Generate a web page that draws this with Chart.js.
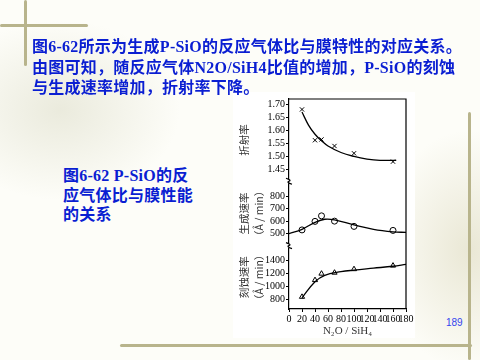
<!DOCTYPE html>
<html>
<head>
<meta charset="utf-8">
<script src="https://cdn.jsdelivr.net/npm/chart.js@4.4.1/dist/chart.umd.min.js"></script>
<style>
    body { margin: 0; }
    .slide {
        position: relative; width: 480px; height: 360px; overflow: hidden;
        background:
            radial-gradient(ellipse 120px 90px at 60px 110px, rgba(200,200,170,0.35), rgba(255,255,255,0) 100%),
            radial-gradient(ellipse 90px 120px at 470px 250px, rgba(210,205,170,0.45), rgba(255,255,255,0) 100%),
            #fdfdf8;
        font-family: "Noto Sans CJK SC", sans-serif;
    }
    .vine { position: absolute; background: #b8b48c; border-radius: 2px; }
    .txt { position: absolute; z-index: 2; color: #0a1ed2; font-weight: bold; font-size: 16px; line-height: 18.5px; letter-spacing: 0.25px; white-space: nowrap; }
    .txt .lat { font-family: "Liberation Serif", serif; }
    .pg { position: absolute; left: 446px; top: 317px; font: 10px "Liberation Sans", Arial, sans-serif; color: #3344ee; }
    .figbox { position: absolute; left: 233px; top: 92px; width: 182px; height: 246px; background: #fff; }
</style>
</head>
<body>
<div class="slide">
    <div class="vine" style="left:0;top:24px;width:88px;height:3px"></div>
    <div class="vine" style="left:24px;top:0;width:3px;height:66px"></div>
    <div class="vine" style="left:120px;top:344px;width:352px;height:3px"></div>
    <div class="vine" style="left:468px;top:112px;width:3px;height:248px"></div>

    <div class="figbox"><canvas id="chart" width="182" height="246"></canvas></div>

    <div class="txt" style="left:32px;top:36px">图<span class="lat">6-62</span>所示为生成<span class="lat">P-SiO</span>的反应气体比与膜特性的对应关系。<br>由图可知，随反应气体<span class="lat">N2O/SiH4</span>比值的增加，<span class="lat">P-SiO</span>的刻蚀<br>与生成速率增加，折射率下降。</div>
    <div class="txt" style="left:63px;top:165px;line-height:19px">图<span class="lat">6-62 P-SiO</span>的反<br>应气体比与膜性能<br>的关系</div>
    <div class="pg">189</div>
</div>

<script>
// N2O/SiH4 ratios of the measured points
const ratios = [20, 40, 50, 70, 100, 160];

// refractive index (x markers) and the drawn curve
const refIndex = [1.68, 1.562, 1.565, 1.54, 1.512, 1.48];
const refCurveX = [20, 30, 40, 50, 60, 80, 100, 120, 140, 165];
const refCurveY = [1.67, 1.62, 1.585, 1.56, 1.54, 1.515, 1.50, 1.49, 1.485, 1.485];

// deposition rate, A/min (circles)
const depRate = [530, 598, 642, 600, 558, 526];
const depCurveX = [0, 20, 40, 55, 70, 100, 130, 160, 180];
const depCurveY = [500, 535, 590, 615, 610, 570, 535, 515, 510];

// etch rate, A/min (triangles)
const etchRate = [835, 1095, 1195, 1210, 1265, 1320];
const etchCurveX = [20, 40, 55, 80, 100, 130, 160, 180];
const etchCurveY = [820, 1070, 1170, 1225, 1250, 1280, 1310, 1340];

// tick labels
const xTicks = [0, 20, 40, 60, 80, 100, 120, 140, 160, 180];
const refTicks = [1.45, 1.50, 1.55, 1.60, 1.65, 1.70];
const depTicks = [500, 600, 700, 800];
const etchTicks = [800, 1000, 1200, 1400];

const INK = '#000';
const tickFont = { family: 'Liberation Serif', size: 10 };

function pts(xs, ys) {
    return xs.map((x, i) => ({ x: x, y: ys[i] }));
}

function yAxis(min, max, weight, ticks, title, digits) {
    return {
        type: 'linear', position: 'left', stack: 'panels', stackWeight: weight,
        min: min, max: max,
        afterBuildTicks: (s) => { s.ticks = ticks.map(v => ({ value: v })); },
        afterFit: (s) => { s.width = 56; },
        ticks: { font: tickFont, color: INK, padding: 1, autoSkip: false, callback: v => v.toFixed(digits) },
        grid: { drawOnChartArea: false, tickLength: 3, color: INK },
        border: { color: INK, width: 1.2 },
        title: { display: true, text: title, font: { family: 'Noto Sans CJK SC', size: 10.5, lineHeight: 1.45 }, color: '#333', padding: { top: 3, bottom: 0 } }
    };
}

//Draws the frame round the plot and the little breaks between panels
const framePlugin = {
    id: 'frame',
    afterDraw(chart) {
        const ctx = chart.ctx;
        const a = chart.chartArea;
        ctx.save();
        ctx.strokeStyle = INK;
        ctx.lineWidth = 1.2;
        ctx.beginPath();
        ctx.moveTo(a.left, a.top);
        ctx.lineTo(a.right, a.top);
        ctx.lineTo(a.right, a.bottom);
        ctx.stroke();
        ['yRef', 'yDep'].forEach(id => {
            const yb = chart.scales[id].bottom;
            ctx.fillStyle = '#fff';
            ctx.fillRect(a.left - 2, yb - 2, 4, 4);
            ctx.beginPath();
            ctx.moveTo(a.left - 3, yb - 3);
            ctx.quadraticCurveTo(a.left + 3, yb - 1, a.left, yb);
            ctx.quadraticCurveTo(a.left - 3, yb + 1, a.left + 3, yb + 3);
            ctx.stroke();
        });
        ctx.restore();
    }
};

const curveStyle = { type: 'line', showLine: true, pointRadius: 0, borderColor: INK, borderWidth: 1.3, tension: 0.4, fill: false };
const markStyle = { type: 'scatter', borderColor: INK, backgroundColor: '#fff', borderWidth: 1, pointRadius: 3 };

new Chart(document.getElementById('chart'), {
    data: {
        datasets: [
            Object.assign({ data: pts(refCurveX, refCurveY), yAxisID: 'yRef' }, curveStyle),
            Object.assign({ data: pts(ratios, refIndex), yAxisID: 'yRef', pointStyle: 'crossRot' }, markStyle),
            Object.assign({ data: pts(depCurveX, depCurveY), yAxisID: 'yDep' }, curveStyle),
            Object.assign({ data: pts(ratios, depRate), yAxisID: 'yDep', pointStyle: 'circle' }, markStyle),
            Object.assign({ data: pts(etchCurveX, etchCurveY), yAxisID: 'yEtch' }, curveStyle),
            Object.assign({ data: pts(ratios, etchRate), yAxisID: 'yEtch', pointStyle: 'triangle' }, markStyle)
        ]
    },
    options: {
        responsive: false,
        animation: false,
        layout: { padding: { top: 5, right: 9, left: 0, bottom: 0 } },
        plugins: { legend: { display: false }, tooltip: { enabled: false } },
        scales: {
            x: {
                type: 'linear', min: 0, max: 180,
                afterBuildTicks: (s) => { s.ticks = xTicks.map(v => ({ value: v })); },
                afterFit: (s) => { s.height = 29; },
                ticks: { font: tickFont, color: INK, padding: 1, autoSkip: false, maxRotation: 0 },
                grid: { drawOnChartArea: false, tickLength: 3, color: INK },
                border: { color: INK, width: 1.2 },
                title: { display: true, text: 'N₂O / SiH₄', font: { family: 'Liberation Serif', size: 11 }, color: '#333', padding: 0 }
            },
            // stacked panels are laid out bottom first
            yEtch: yAxis(646, 1631, 64, etchTicks, ['刻蚀速率', '（Å / min）'], 0),
            yDep: yAxis(405, 918, 65, depTicks, ['生成速率', '（Å / min）'], 0),
            yRef: yAxis(1.405, 1.72, 83, refTicks, '折射率', 2)
        }
    },
    plugins: [framePlugin]
});
</script>
</body>
</html>
